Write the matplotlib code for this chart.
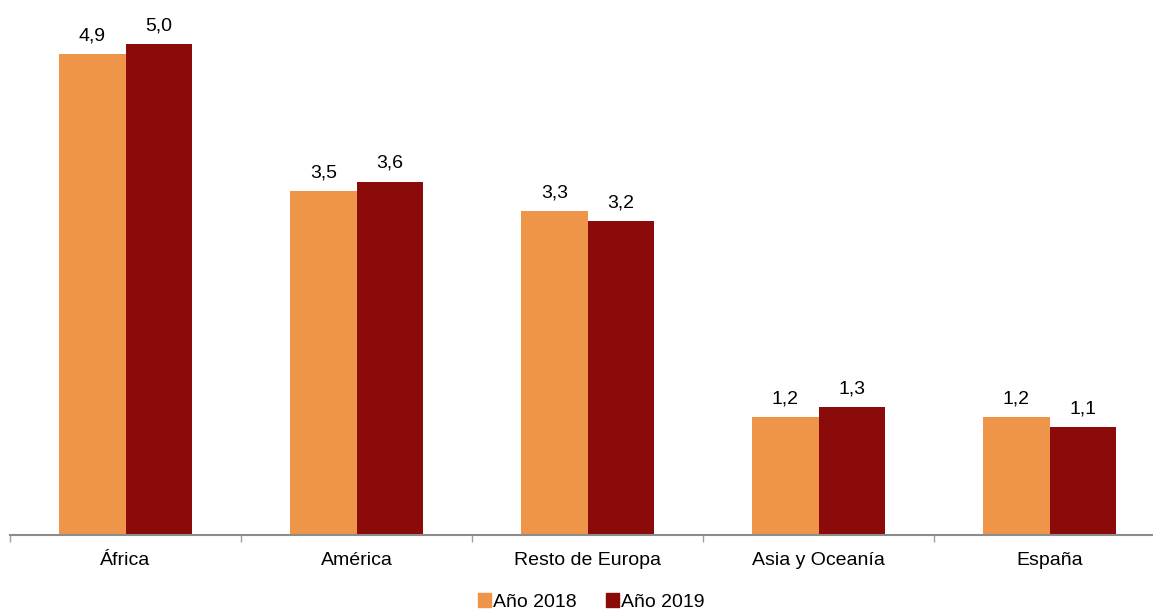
import matplotlib.pyplot as plt
import numpy as np
from matplotlib.patches import Patch

plt.rcParams.update({'font.family': ['Liberation Sans', 'DejaVu Sans'], 'font.size': 14})

categories = ["África", "América", "Resto de Europa", "Asia y Oceanía", "España"]
series_names = ["Año 2018", "Año 2019"]
values_2018 = [4.9, 3.5, 3.3, 1.2, 1.2]
values_2019 = [5.0, 3.6, 3.2, 1.3, 1.1]
colors = ["#EE9549", "#8B0A0A"]

fig = plt.figure(figsize=(11.53, 6.10), dpi=100)
# axes runs a bit past the right edge like the original
ax = fig.add_axes([10 / 1153, 75 / 610, 1155 / 1153, 535 / 610])

x = np.arange(len(categories))
w = 0.287
b1 = ax.bar(x - w / 2, values_2018, w, color=colors[0])
b2 = ax.bar(x + w / 2, values_2019, w, color=colors[1])

for bars in (b1, b2):
    for r in bars:
        h = r.get_height()
        ax.annotate(("%.1f" % h).replace(".", ","), xy=(r.get_x() + r.get_width() / 2, h),
                    xytext=(0, 7), textcoords="offset points", ha="center", va="bottom",
                    fontsize=14)

ax.set_xlim(-0.5, len(categories) - 0.5)
ax.set_ylim(0, 5.45)
ax.set_yticks([])
ax.set_xticks(x)
ax.set_xticklabels(categories)
ax.set_xticks(np.arange(-0.5, len(categories), 1), minor=True)
ax.tick_params(axis="x", which="major", length=0, pad=12)
ax.tick_params(axis="x", which="minor", length=5, width=1, color="#A0A0A0", direction="out")
for s in ("top", "right", "left"):
    ax.spines[s].set_visible(False)
ax.spines["bottom"].set_color("#8C8C8C")
ax.spines["bottom"].set_linewidth(1.5)

handles = [Patch(color=c, label=n) for c, n in zip(colors, series_names)]
fig.legend(handles=handles, loc="center", bbox_to_anchor=(591 / 1153, 1 - 602 / 610),
           ncol=2, frameon=False, handlelength=0.7, handleheight=0.7,
           handletextpad=0.08, columnspacing=1.5, fontsize=14)

fig.savefig("out.png", dpi=100)
